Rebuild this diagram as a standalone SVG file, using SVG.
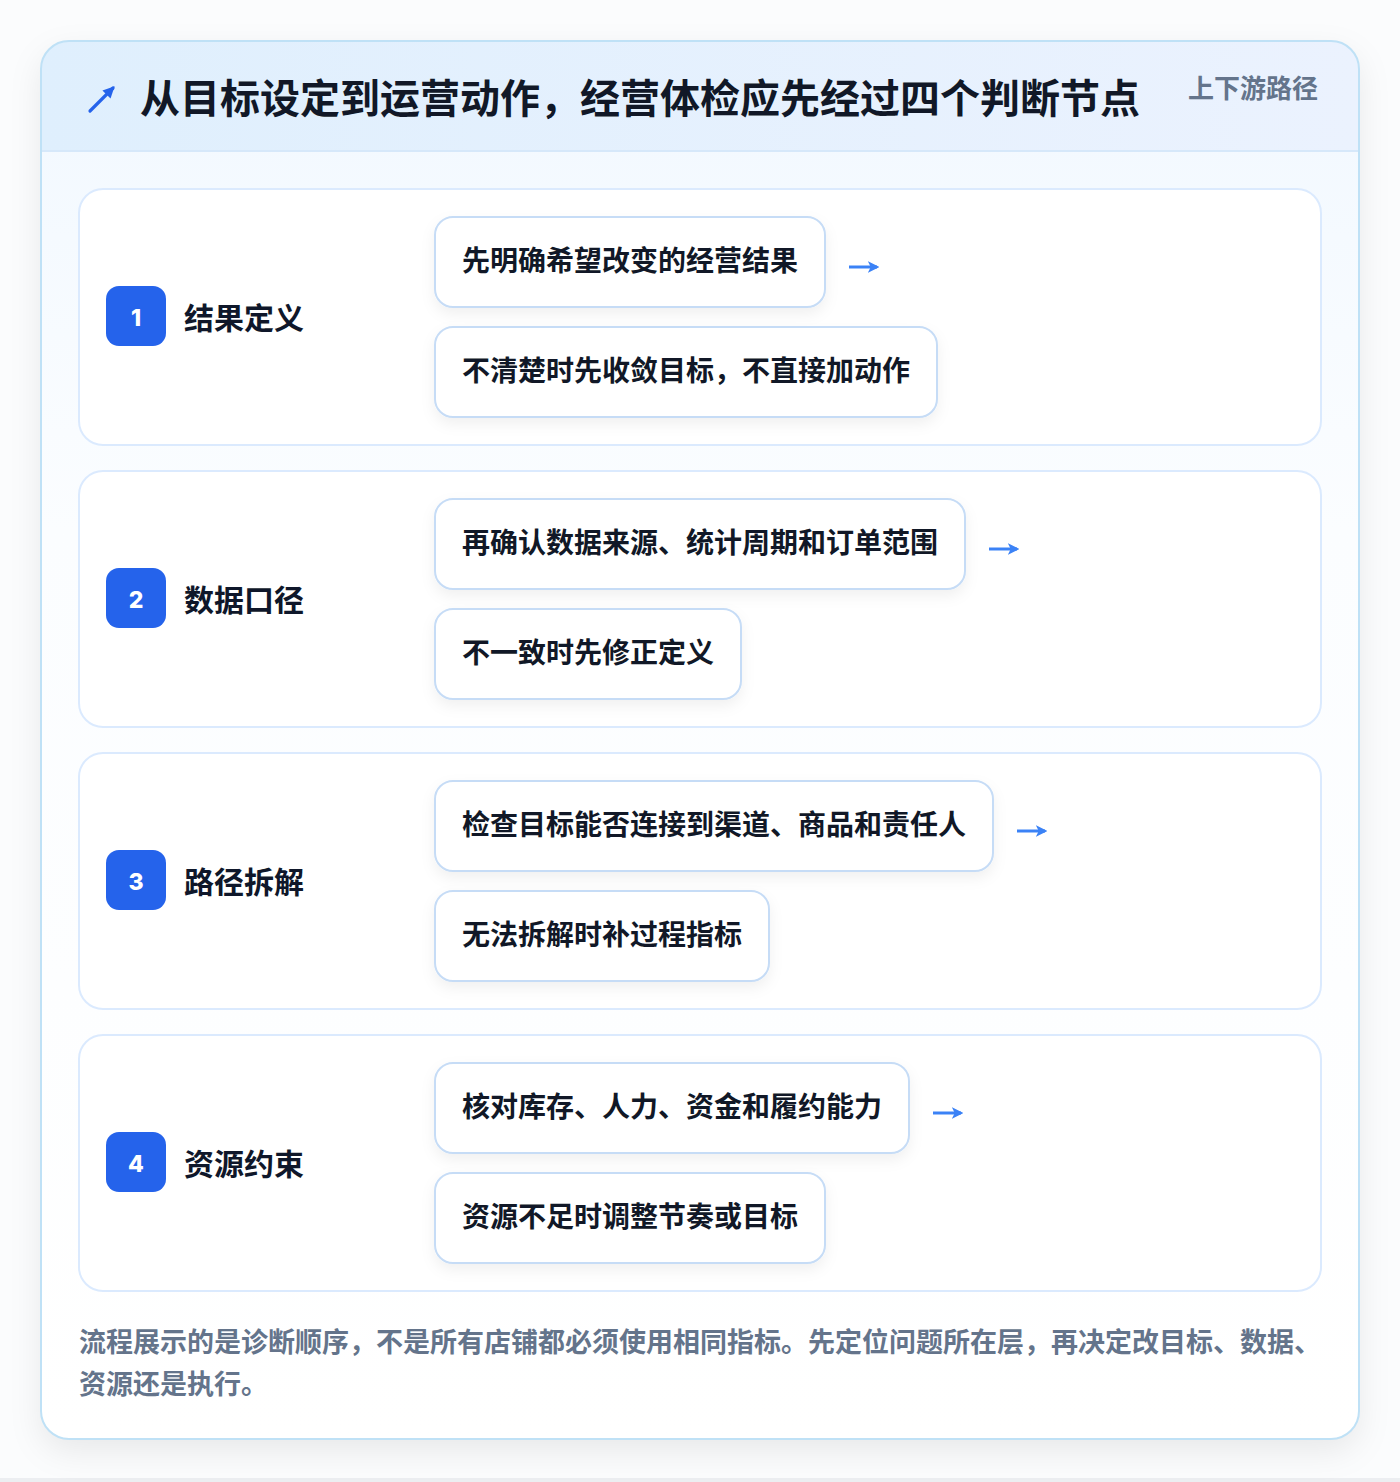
<svg xmlns="http://www.w3.org/2000/svg" width="1400" height="1482" viewBox="0 0 1400 1482">
<defs>
<style>
.t{font-family:"Noto Sans CJK SC","Noto Sans",sans-serif;font-weight:700}
.title{font-size:40px;fill:#111827}
.tag{font-size:26px;fill:#64748b}
.sec{fill:#ffffff;stroke:#dbeafe;stroke-width:2}
.badge{fill:#2563eb}
.num{font-family:Inter,"Liberation Sans",sans-serif;font-weight:800;font-size:23px;fill:#ffffff}
.lbl{font-size:30px;fill:#0f172a}
.pill{fill:#ffffff;stroke:#c6dcf6;stroke-width:2}
.ptx{font-size:28px;fill:#111827}
.arr{fill:none;stroke:#3b82f6;stroke-width:3;marker-end:url(#ah)}
.foot{font-size:27px;fill:#64748b}
</style>
<marker id="ah" viewBox="0 0 10 10" refX="8" refY="5" markerWidth="3.8" markerHeight="3.8" orient="auto" markerUnits="strokeWidth">
<path d="M0,0 L10,5 L0,10 L2.5,5 Z" fill="#3b82f6"/>
</marker>
<marker id="ah2" viewBox="0 0 10 10" refX="8" refY="5" markerWidth="3.6" markerHeight="3.6" orient="auto" markerUnits="strokeWidth">
<path d="M0,0 L10,5 L0,10 Z" fill="#2563eb"/>
</marker>
<linearGradient id="hdr" x1="0" y1="0" x2="1" y2="0">
<stop offset="0" stop-color="#dfeffd"/>
<stop offset="1" stop-color="#ebf2fe"/>
</linearGradient>
<linearGradient id="body" x1="0" y1="0" x2="0" y2="1">
<stop offset="0" stop-color="#f1f8ff"/>
<stop offset="0.35" stop-color="#fbfdff"/>
<stop offset="1" stop-color="#ffffff"/>
</linearGradient>
<filter id="cardsh" x="-10%" y="-10%" width="120%" height="120%">
<feDropShadow dx="0" dy="12" stdDeviation="16" flood-color="#0f172a" flood-opacity="0.08"/>
</filter>
<filter id="pillsh" x="-10%" y="-20%" width="120%" height="150%">
<feDropShadow dx="0" dy="6" stdDeviation="7" flood-color="#0f172a" flood-opacity="0.06"/>
</filter>
<clipPath id="cardclip"><rect x="41" y="41" width="1318" height="1398" rx="28"/></clipPath>
</defs>
<rect x="0" y="0" width="1400" height="1482" fill="#fbfcfd"/>
<rect x="0" y="1478" width="1400" height="4" fill="#eceef1"/>
<g id="card">
<rect x="41" y="41" width="1318" height="1398" rx="28" fill="url(#body)" filter="url(#cardsh)"/>
<g clip-path="url(#cardclip)">
<rect x="41" y="41" width="1318" height="110" fill="url(#hdr)"/>
<line x1="41" y1="151" x2="1359" y2="151" stroke="#d6e8fa" stroke-width="2"/>
</g>
<rect x="41" y="41" width="1318" height="1398" rx="28" fill="none" stroke="#bfe1f6" stroke-width="2"/>
</g>
<g id="header">
<path d="M90,111 L113,88" fill="none" stroke="#2563eb" stroke-width="3.2" stroke-linecap="round" marker-end="url(#ah2)"/>
<text class="t title" x="140" y="113">从目标设定到运营动作，经营体检应先经过四个判断节点</text>
<text class="t tag" x="1188" y="98">上下游路径</text>
</g>
<g id="step1">
<rect class="sec" x="79" y="189" width="1242" height="256" rx="24"/>
<rect class="badge" x="106" y="286" width="60" height="60" rx="13"/>
<text class="num" x="136" y="326" text-anchor="middle">1</text>
<text class="t lbl" x="184" y="329">结果定义</text>
<rect class="pill" x="435" y="217" width="390" height="90" rx="18" filter="url(#pillsh)"/>
<text class="t ptx" x="462" y="271">先明确希望改变的经营结果</text>
<rect class="pill" x="435" y="327" width="502" height="90" rx="18" filter="url(#pillsh)"/>
<text class="t ptx" x="462" y="381">不清楚时先收敛目标，不直接加动作</text>
</g>
<g id="step2">
<rect class="sec" x="79" y="471" width="1242" height="256" rx="24"/>
<rect class="badge" x="106" y="568" width="60" height="60" rx="13"/>
<text class="num" x="136" y="608" text-anchor="middle">2</text>
<text class="t lbl" x="184" y="611">数据口径</text>
<rect class="pill" x="435" y="499" width="530" height="90" rx="18" filter="url(#pillsh)"/>
<text class="t ptx" x="462" y="553">再确认数据来源、统计周期和订单范围</text>
<rect class="pill" x="435" y="609" width="306" height="90" rx="18" filter="url(#pillsh)"/>
<text class="t ptx" x="462" y="663">不一致时先修正定义</text>
</g>
<g id="step3">
<rect class="sec" x="79" y="753" width="1242" height="256" rx="24"/>
<rect class="badge" x="106" y="850" width="60" height="60" rx="13"/>
<text class="num" x="136" y="890" text-anchor="middle">3</text>
<text class="t lbl" x="184" y="893">路径拆解</text>
<rect class="pill" x="435" y="781" width="558" height="90" rx="18" filter="url(#pillsh)"/>
<text class="t ptx" x="462" y="835">检查目标能否连接到渠道、商品和责任人</text>
<rect class="pill" x="435" y="891" width="334" height="90" rx="18" filter="url(#pillsh)"/>
<text class="t ptx" x="462" y="945">无法拆解时补过程指标</text>
</g>
<g id="step4">
<rect class="sec" x="79" y="1035" width="1242" height="256" rx="24"/>
<rect class="badge" x="106" y="1132" width="60" height="60" rx="13"/>
<text class="num" x="136" y="1172" text-anchor="middle">4</text>
<text class="t lbl" x="184" y="1175">资源约束</text>
<rect class="pill" x="435" y="1063" width="474" height="90" rx="18" filter="url(#pillsh)"/>
<text class="t ptx" x="462" y="1117">核对库存、人力、资金和履约能力</text>
<rect class="pill" x="435" y="1173" width="390" height="90" rx="18" filter="url(#pillsh)"/>
<text class="t ptx" x="462" y="1227">资源不足时调整节奏或目标</text>
</g>
<g id="connectors">
<path class="arr" d="M849,267 H877"/>
<path class="arr" d="M989,549 H1017"/>
<path class="arr" d="M1017,831 H1045"/>
<path class="arr" d="M933,1113 H961"/>
</g>
<g id="footer">
<text class="t foot" x="79" y="1352">流程展示的是诊断顺序，不是所有店铺都必须使用相同指标。先定位问题所在层，再决定改目标、数据、</text>
<text class="t foot" x="79" y="1394">资源还是执行。</text>
</g>
</svg>
